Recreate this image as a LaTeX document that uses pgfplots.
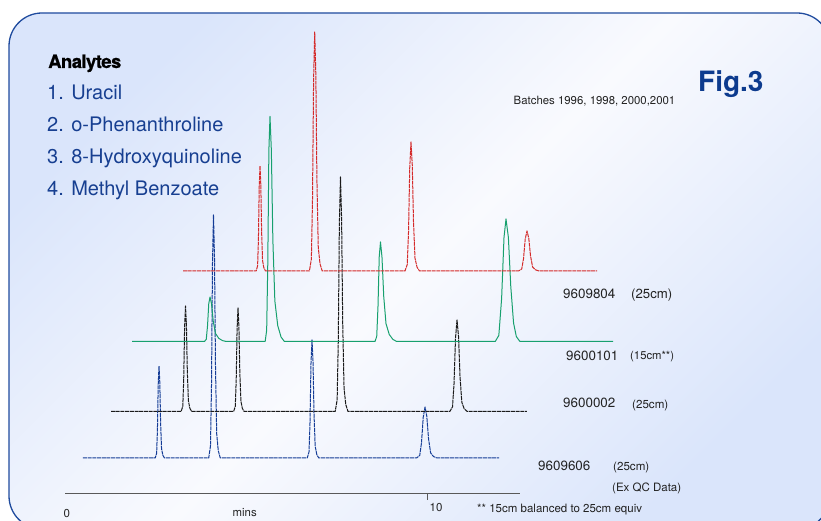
\documentclass[border=0pt]{standalone}
\usepackage{pgfplots}
\pgfplotsset{compat=1.18}
\usepackage{fontspec}
\setmainfont{TeX Gyre Heros}
\definecolor{bgA}{HTML}{DAE5FB}
\definecolor{bgB}{HTML}{F9FAFE}
\definecolor{frameblue}{HTML}{1F4B9E}
\definecolor{txtblue}{HTML}{173F91}
\definecolor{figblue}{HTML}{0D3B8E}
\definecolor{txtdark}{HTML}{222222}
\definecolor{cred}{HTML}{D42A2A}
\definecolor{cgreen}{HTML}{17A06E}
\definecolor{cblack}{HTML}{1A1A1A}
\definecolor{cblue}{HTML}{143C96}
\newcommand{\fs}[1]{\fontsize{#1bp}{#1bp}\selectfont}
\begin{document}
\begin{tikzpicture}[x=1bp,y=1bp]
\useasboundingbox (0,0) rectangle (821,521);
\clip (0,0) rectangle (821,521);
\fill[white] (0,0) rectangle (821,521);
\shade[top color=bgA, bottom color=bgA, middle color=bgB, shading angle=45, rounded corners=33bp] (9,-8) rectangle (830,508);
\draw[frameblue, line width=1.3bp, rounded corners=33bp] (9,-8) rectangle (830,508);
\begin{axis}[at={(0,0)}, anchor=south west, scale only axis,
  width=821bp, height=521bp, xmin=-1.7956, xmax=20.884, ymin=-27, ymax=494,
  hide axis, clip=false,
  every axis plot/.append style={line width=1bp, line join=round, mark=none}]
% 9609606 (blue, front)
\addplot[cblue, dash pattern=on 4bp off 0.7bp] table[x=t, y expr=\thisrow{s}+36] {
t s
0.497 0
2.491 0
2.531 4.6
2.553 27.6
2.575 73.6
2.597 92
2.619 75.4
2.641 35
2.667 9.2
2.703 2.8
2.747 0
3.970 0
4.019 12.2
4.047 72.9
4.074 194.4
4.102 243
4.130 199.3
4.157 92.3
4.190 24.3
4.234 7.3
4.289 0
6.691 0
6.740 5.9
6.768 35.4
6.795 94.4
6.823 118
6.851 96.8
6.878 44.8
6.911 11.8
6.955 3.5
7.010 0
9.712 0
9.799 2.6
9.848 15.3
9.896 40.8
9.945 51
9.994 41.8
10.042 19.4
10.100 5.1
10.178 1.5
10.275 0
11.989 0
};
% 9600002 (black)
\addplot[cblack, dash pattern=on 4bp off 0.7bp] table[x=t, y expr=\thisrow{s}+82.5] {
t s
1.271 0
3.209 0
3.254 5.3
3.279 31.7
3.304 84.4
3.329 105.5
3.354 86.5
3.379 40.1
3.409 10.6
3.449 3.2
3.499 0
4.659 0
4.704 5.2
4.729 31.1
4.754 82.8
4.779 103.5
4.804 84.9
4.829 39.3
4.859 10.4
4.899 3.1
4.949 0
7.464 0
7.518 11.7
7.549 70.4
7.579 187.6
7.610 234.5
7.641 192.3
7.671 89.1
7.708 23.5
7.756 7.0
7.817 0
10.630 0
10.704 4.6
10.746 27.5
10.787 73.2
10.829 91.5
10.871 75.0
10.912 34.8
10.962 9.2
11.028 2.7
11.111 0
12.762 0
};
% 9600101 (green)
\addplot[cgreen] table[x=t, y expr=\thisrow{s}+152.5] {
t s
1.851 0
3.854 0
3.902 2.2
3.937 15.6
3.971 37.8
4.006 44.5
4.047 37.8
4.096 20
4.158 8
4.248 3.1
4.351 0.9
4.455 0
5.529 0
5.571 11.3
5.602 78.8
5.632 191.3
5.663 225
5.700 191.3
5.742 101.3
5.797 40.5
5.877 15.8
5.968 4.5
6.060 0
8.563 0
8.611 5
8.646 34.8
8.680 84.6
8.715 99.5
8.756 84.6
8.805 44.8
8.867 17.9
8.957 7
9.060 2
9.164 0
11.885 0
11.984 6.1
12.061 42.9
12.127 104.1
12.182 122.5
12.248 104.1
12.314 55.1
12.391 18.4
12.468 4.9
12.567 0
15.138 0
};
% 9609804 (red, back)
\addplot[cred, dash pattern=on 4bp off 0.7bp] table[x=t, y expr=\thisrow{s}+223] {
t s
3.260 0
5.281 0
5.321 5.3
5.343 31.5
5.365 84
5.387 105
5.409 86.1
5.431 39.9
5.457 10.5
5.493 3.2
5.537 0
6.752 0
6.806 12
6.837 71.7
6.867 191.2
6.898 239
6.929 196
6.959 90.8
6.996 23.9
7.044 7.2
7.105 0
9.392 0
9.454 6.5
9.489 38.7
9.523 103.2
9.558 129
9.593 105.8
9.627 49
9.668 12.9
9.724 3.9
9.793 0
12.529 0
12.616 2
12.665 12
12.713 32
12.762 40
12.811 32.8
12.859 15.2
12.917 4
12.995 1.2
13.092 0
14.696 0
};
% time axis
\draw[black!65, line width=1bp] (axis cs:0,0) -- (axis cs:12.57,0);
\draw[black!65, line width=1bp] (axis cs:10,0) -- (axis cs:10,-6);
\end{axis}
% texts
\begin{scope}[every node/.style={inner sep=0pt, anchor=base west}]
\node[text=black] at (48,453) {\fs{18.5}\bfseries\addfontfeatures{FakeBold=0.7,LetterSpace=-3}Analytes};
\node[text=txtblue] at (47,421) {\fs{20}1. Uracil};
\node[text=txtblue] at (47,389) {\fs{20}2. o-Phenanthroline};
\node[text=txtblue] at (47,357) {\fs{20}3. 8-Hydroxyquinoline};
\node[text=txtblue] at (47,325) {\fs{20}4. Methyl Benzoate};
\node[text=txtdark] at (513.5,416) {\fs{11.4}Batches 1996, 1998, 2000,2001};
\node[text=figblue] at (698,429) {\fs{28}\bfseries Fig.3};
\node[text=txtdark] at (563,222) {\fs{13.4}9609804};
\node[text=txtdark] at (631,222) {\fs{13.2}(25cm)};
\node[text=txtdark] at (566,160) {\fs{13.4}9600101};
\node[text=txtdark] at (630,161) {\fs{11.3}(15cm**)};
\node[text=txtdark] at (563,113) {\fs{13.4}9600002};
\node[text=txtdark] at (632,112) {\fs{11.6}(25cm)};
\node[text=txtdark] at (538,50) {\fs{13.4}9609606};
\node[text=txtdark] at (613,50) {\fs{11.6}(25cm)};
\node[text=txtdark] at (612,29) {\fs{11.5}(Ex QC Data)};
\node[text=txtdark] at (477,8) {\fs{11.5}** 15cm balanced to 25cm equiv};
\node[text=txtdark] at (63.5,3.5) {\fs{11.5}0};
\node[text=txtdark] at (429.5,9.3) {\fs{11.5}10};
\node[text=txtdark] at (232.5,4.3) {\fs{11.4}mins};
\end{scope}
\end{tikzpicture}
\end{document}
